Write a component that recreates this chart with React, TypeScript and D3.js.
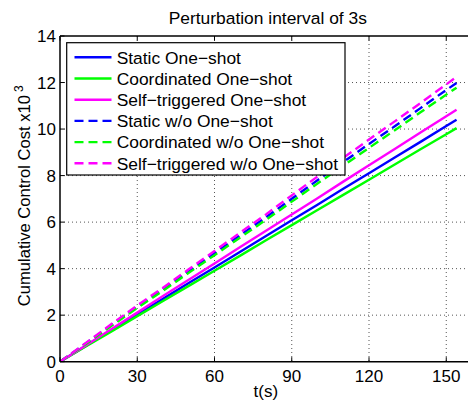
import React from "react";
import * as d3 from "d3";

const times = [0, 10, 20, 30, 40, 50, 60, 70, 80, 90, 100, 110, 120, 130, 140, 150, 154];
const staticOneShot = [0, 0.68, 1.35, 2.03, 2.7, 3.38, 4.05, 4.73, 5.4, 6.08, 6.75, 7.43, 8.1, 8.78, 9.45, 10.13, 10.4];
const coordOneShot = [0, 0.65, 1.3, 1.96, 2.61, 3.26, 3.91, 4.56, 5.22, 5.87, 6.52, 7.17, 7.82, 8.48, 9.13, 9.78, 10.04];
const selfOneShot = [0, 0.7, 1.41, 2.11, 2.82, 3.52, 4.22, 4.93, 5.63, 6.33, 7.03, 7.74, 8.44, 9.14, 9.85, 10.55, 10.83];
const staticNo = [0, 0.78, 1.58, 2.37, 3.12, 3.9, 4.66, 5.44, 6.21, 7.0, 7.8, 8.58, 9.36, 10.12, 10.9, 11.68, 11.98];
const coordNo = [0, 0.76, 1.54, 2.31, 3.05, 3.82, 4.58, 5.34, 6.1, 6.88, 7.66, 8.43, 9.19, 9.95, 10.72, 11.48, 11.78];
const selfNo = [0, 0.8, 1.62, 2.42, 3.18, 3.97, 4.76, 5.55, 6.33, 7.15, 7.96, 8.76, 9.55, 10.33, 11.12, 11.92, 12.24];

const xTicks = [0, 30, 60, 90, 120, 150];
const yTicks = [0, 2, 4, 6, 8, 10, 12, 14];

const seriesNames = [
  "Static One\u2212shot",
  "Coordinated One\u2212shot",
  "Self\u2212triggered One\u2212shot",
  "Static w/o One\u2212shot",
  "Coordinated w/o One\u2212shot",
  "Self\u2212triggered w/o One\u2212shot",
];
const seriesValues = [staticOneShot, coordOneShot, selfOneShot, staticNo, coordNo, selfNo];
const seriesColors = ["#0000ff", "#00ff00", "#ff00ff", "#0000ff", "#00ff00", "#ff00ff"];
const seriesDashed = [false, false, false, true, true, true];

const W = 468;
const H = 403;
const L = 60;
const R = 472;
const T = 36;
const B = 361.7;
const FONT = "'Liberation Sans', Arial, sans-serif";

export default function App() {
  const x = d3.scaleLinear().domain([0, 160]).range([L, R]);
  const y = d3.scaleLinear().domain([0, 14]).range([B, T]);
  const line = d3
    .line<[number, number]>()
    .x((d) => x(d[0]))
    .y((d) => y(d[1]));

  const legX = 66.7;
  const legY = 42.7;
  const legW = 278.3;
  const legH = 132.3;
  const rowH = 21.2;
  const row0 = 57.3;

  return (
    <svg
      width={W}
      height={H}
      style={{ position: "fixed", left: 0, top: 0, background: "#fff" }}
      fontFamily={FONT}
    >
      <rect x={0} y={0} width={W} height={H} fill="#fff" />
      {xTicks
        .filter((t) => t > 0)
        .map((t) => (
          <line key={"gx" + t} x1={x(t)} x2={x(t)} y1={T} y2={B} stroke="#555" strokeWidth={1} strokeDasharray="1,3" />
        ))}
      {yTicks
        .filter((t) => t > 0 && t < 14)
        .map((t) => (
          <line key={"gy" + t} x1={L} x2={R} y1={y(t)} y2={y(t)} stroke="#555" strokeWidth={1} strokeDasharray="1,3" />
        ))}
      <defs>
        <clipPath id="plotclip">
          <rect x={L} y={T} width={R - L} height={B - T} />
        </clipPath>
      </defs>
      <g clipPath="url(#plotclip)">
        {seriesValues.map((vals, i) => (
          <path
            key={"s" + i}
            d={line(times.map((t, j) => [t, vals[j]] as [number, number])) || ""}
            fill="none"
            stroke={seriesColors[i]}
            strokeWidth={2.4}
            strokeDasharray={seriesDashed[i] ? "9,5" : undefined}
          />
        ))}
      </g>
      <line x1={L} x2={R} y1={B} y2={B} stroke="#000" strokeWidth={1.5} />
      <line x1={L} x2={R} y1={T} y2={T} stroke="#000" strokeWidth={1.5} />
      <line x1={L} x2={L} y1={T} y2={B} stroke="#000" strokeWidth={1.5} />
      {xTicks.map((t) => (
        <g key={"xt" + t}>
          <line x1={x(t)} x2={x(t)} y1={B} y2={B - 4.5} stroke="#000" strokeWidth={1} />
          <line x1={x(t)} x2={x(t)} y1={T} y2={T + 4.5} stroke="#000" strokeWidth={1} />
          <text x={x(t)} y={381.7} textAnchor="middle" fontSize={17} fill="#000">
            {t}
          </text>
        </g>
      ))}
      {yTicks.map((t) => (
        <g key={"yt" + t}>
          <line x1={L} x2={L + 4.5} y1={y(t)} y2={y(t)} stroke="#000" strokeWidth={1} />
          <text x={56} y={y(t)} dy="0.36em" textAnchor="end" fontSize={17} fill="#000">
            {t}
          </text>
        </g>
      ))}
      <text x={267.8} y={24} textAnchor="middle" fontSize={17.4} fill="#000">
        Perturbation interval of 3s
      </text>
      <text x={265.8} y={397} textAnchor="middle" fontSize={17} fill="#000">
        t(s)
      </text>
      <text transform={`translate(30,${(T + B) / 2 - 3}) rotate(-90)`} textAnchor="middle" fontSize={16.6} fill="#000">
        Cumulative Control Cost x10
        <tspan fontSize={12} dx={3} dy={-7}>
          3
        </tspan>
      </text>
      <rect x={legX} y={legY} width={legW} height={legH} fill="#fff" stroke="#000" strokeWidth={1.2} />
      {seriesNames.map((name, i) => (
        <g key={"lg" + i}>
          <line
            x1={74.5}
            x2={111.5}
            y1={row0 + i * rowH}
            y2={row0 + i * rowH}
            stroke={seriesColors[i]}
            strokeWidth={2.4}
            strokeDasharray={seriesDashed[i] ? "9,5" : undefined}
          />
          <text x={116.7} y={row0 + i * rowH} dy="0.36em" fontSize={17.4} fill="#000">
            {name}
          </text>
        </g>
      ))}
    </svg>
  );
}
